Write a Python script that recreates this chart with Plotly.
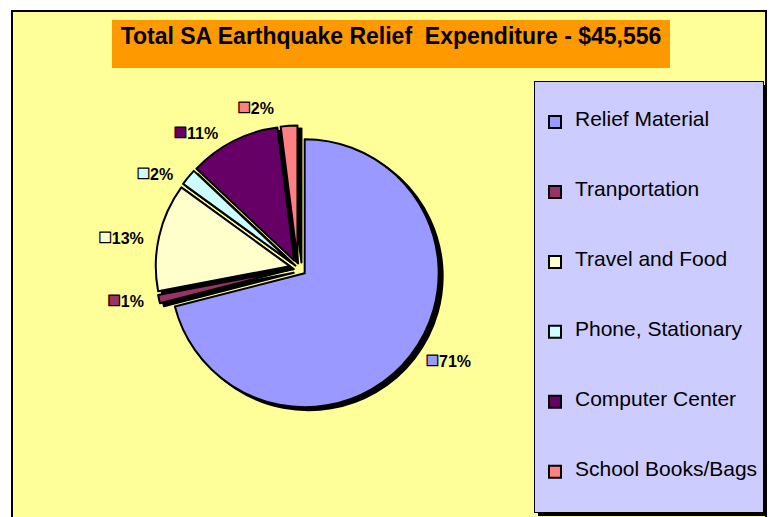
import plotly.graph_objects as go

# ---- data ----
categories = ["Relief Material", "Tranportation", "Travel and Food",
              "Phone, Stationary", "Computer Center", "School Books/Bags"]
shares = [71, 1, 13, 2, 11, 2]          # percent of total expenditure
colors = ["#9999FF", "#993366", "#FFFFCC", "#CCFFFF", "#660066", "#FF8080"]
title_text = "Total SA Earthquake Relief  Expenditure - $45,556"

# ---- layout geometry (pixels) ----
W, H = 769, 517
def fx(v):
    return v / W
def fy(v):
    return 1 - v / H

pull = 0.063
cx, cy, r = 298, 268, 134
half = r * (1 + pull)
sdx, sdy = 4, 3   # shadow offset

legend_labels = ["&nbsp;<br>&nbsp;<br><span style='font-size:21px'>%s</span><br>&nbsp;<br>&nbsp;" % c
                 for c in categories]
keys = ["<span style='color:%s;fill-opacity:1;stroke:#000000;stroke-opacity:1;stroke-width:1.2px;font-size:22px'>■</span>" % c
        for c in colors]
pad = "&nbsp;&nbsp;"

shadow = go.Pie(
    labels=legend_labels, values=shares, sort=False, direction="clockwise", rotation=0,
    pull=pull,
    marker=dict(colors=["#000000"] * len(shares), line=dict(color="#000000", width=2)),
    textinfo="none", showlegend=False, hoverinfo="skip",
    domain=dict(x=[fx(cx - half + sdx), fx(cx + half + sdx)],
                y=[fy(cy + half + sdy), fy(cy - half + sdy)]),
)

main = go.Pie(
    labels=legend_labels, values=shares, text=keys,
    texttemplate=pad + "%{text}<span style='color:#000000;fill-opacity:1'>%{percent:.0%}</span>" + pad,
    textposition="outside",
    sort=False, direction="clockwise", rotation=0,
    pull=pull,
    marker=dict(colors=colors, line=dict(color="#000000", width=2)),
    textfont=dict(family="Arial, Liberation Sans, sans-serif", size=16, color="#000000", weight="bold"),
    # base colour transparent so no leader lines show; the label spans set their own colour
    outsidetextfont=dict(family="Arial, Liberation Sans, sans-serif", size=16,
                         color="rgba(0,0,0,0)", weight="bold"),
    hoverinfo="percent",
    domain=dict(x=[fx(cx - half), fx(cx + half)],
                y=[fy(cy + half), fy(cy - half)]),
)

fig = go.Figure([shadow, main])

lg_left, lg_top = 534, 81
fig.update_layout(
    width=W, height=H,
    margin=dict(l=0, r=0, t=0, b=0),
    paper_bgcolor="#FFFFFF",
    showlegend=True,
    legend=dict(x=fx(lg_left), xanchor="left", y=fy(lg_top), yanchor="top",
                bgcolor="#CCCCFF", bordercolor="#000000", borderwidth=1,
                font=dict(family="Arial, Liberation Sans, sans-serif", size=10.3, color="#000000")),
    shapes=[
        dict(type="rect", xref="paper", yref="paper", layer="below",
             x0=fx(12), x1=fx(766), y0=fy(530), y1=fy(11),
             fillcolor="#FFFF99", line=dict(color="#000000", width=2)),
        dict(type="rect", xref="paper", yref="paper", layer="above",
             x0=fx(lg_left + 4), x1=fx(767), y0=fy(516), y1=fy(lg_top + 4),
             fillcolor="#000000", line=dict(width=0)),
    ],
    annotations=[
        dict(text="<b>" + title_text + "</b>", xref="paper", yref="paper",
             x=fx(112), xanchor="left", y=fy(20), yanchor="top", showarrow=False,
             bgcolor="#FF9900", borderwidth=0, borderpad=3, width=552, height=42,
             align="center", valign="top",
             font=dict(family="Arial, Liberation Sans, sans-serif", size=23, color="#000000")),
    ],
)

fig.write_html("out.html", config={"displayModeBar": False},
               post_script="document.body.style.margin='0px';")
